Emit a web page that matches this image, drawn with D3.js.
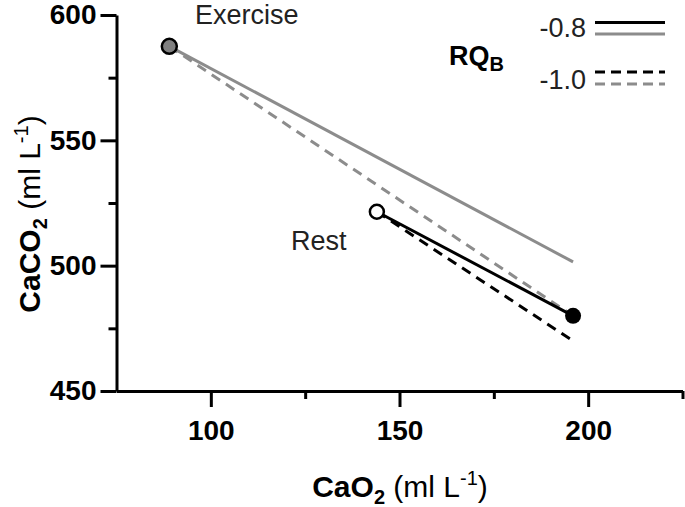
<!DOCTYPE html>
<html>
<head>
<meta charset="utf-8">
<script src="https://cdn.jsdelivr.net/npm/d3@7"></script>
<style>
  html, body { margin: 0; padding: 0; background: #fff; }
  svg { display: block; font-family: "Liberation Sans", Arial, sans-serif; }
</style>
</head>
<body>
<svg id="chart" width="685" height="507"></svg>
<script>
// ---- data ----
const xTicks = [100, 150, 200];
const xMinorTicks = [125, 175, 225];
const yTicks = [450, 500, 550, 600];
const yMinorTicks = [475, 525, 575];
const xDomain = [75, 225];
const yDomain = [450, 600];

const rqLabels = ["-0.8", "-1.0"];
const pointLabels = ["Exercise", "Rest"];

// [CaO2, CaCO2]
const exercisePoint = [89, 587.5];
const restPoint = [144, 521.5];
const endPoint = [196, 480];

const exerciseLine08 = [[89, 587.5], [196, 501.5]];
const exerciseLine10 = [[89, 587.5], [196, 480]];
const restLine08 = [[144, 521.5], [196, 480]];
const restLine10 = [[144, 521.5], [196, 470]];

// ---- drawing ----
const BLACK = "#000000";
const GREY = "#8c8c8c";
const svg = d3.select("#chart");

const x = d3.scaleLinear().domain(xDomain).range([116.5, 682.5]);
const y = d3.scaleLinear().domain(yDomain).range([391, 15]);

const line = d3.line().x(d => x(d[0])).y(d => y(d[1]));

const lines = [
  { data: exerciseLine08, color: GREY, dash: null },
  { data: exerciseLine10, color: GREY, dash: "10,7" },
  { data: restLine08, color: BLACK, dash: null },
  { data: restLine10, color: BLACK, dash: "10,7" }
];

svg.selectAll("path.series")
  .data(lines)
  .enter().append("path")
  .attr("class", "series")
  .attr("d", d => line(d.data))
  .attr("fill", "none")
  .attr("stroke", d => d.color)
  .attr("stroke-width", 3)
  .attr("stroke-dasharray", d => d.dash);

// markers
svg.append("circle").attr("cx", x(exercisePoint[0])).attr("cy", y(exercisePoint[1]))
  .attr("r", 7.5).attr("fill", "#808080").attr("stroke", BLACK).attr("stroke-width", 2.5);
svg.append("circle").attr("cx", x(restPoint[0])).attr("cy", y(restPoint[1]))
  .attr("r", 7).attr("fill", "#fff").attr("stroke", BLACK).attr("stroke-width", 2.5);
svg.append("circle").attr("cx", x(endPoint[0])).attr("cy", y(endPoint[1]))
  .attr("r", 8).attr("fill", BLACK);

// axes
function styleAxis(g) {
  g.selectAll("path.domain").attr("stroke", BLACK).attr("stroke-width", 3);
  g.selectAll(".tick line").attr("stroke", BLACK).attr("stroke-width", 3);
  g.selectAll(".tick text").attr("fill", BLACK)
    .attr("font-family", "Liberation Sans, Arial, sans-serif")
    .attr("font-size", 28).attr("font-weight", "bold");
}

const xAxisG = svg.append("g").attr("transform", "translate(0,391)")
  .call(d3.axisBottom(x).tickValues(xTicks).tickSize(16).tickSizeOuter(0).tickPadding(13).tickFormat(d3.format("d")));
styleAxis(xAxisG);
const xMinorG = svg.append("g").attr("transform", "translate(0,391)")
  .call(d3.axisBottom(x).tickValues(xMinorTicks).tickSize(8).tickSizeOuter(0).tickFormat(""));
styleAxis(xMinorG);
xMinorG.select("path.domain").remove();

const yAxisG = svg.append("g").attr("transform", "translate(116.5,0)")
  .call(d3.axisLeft(y).tickValues(yTicks).tickSize(16).tickSizeOuter(0).tickPadding(4).tickFormat(d3.format("d")));
styleAxis(yAxisG);
const yMinorG = svg.append("g").attr("transform", "translate(116.5,0)")
  .call(d3.axisLeft(y).tickValues(yMinorTicks).tickSize(8).tickSizeOuter(0).tickFormat(""));
styleAxis(yMinorG);
yMinorG.select("path.domain").remove();

// axis titles
const xt = svg.append("text").attr("x", 400).attr("y", 497).attr("text-anchor", "middle")
  .attr("font-size", 30).attr("fill", BLACK);
xt.append("tspan").attr("font-weight", "bold").text("CaO");
xt.append("tspan").attr("font-weight", "bold").attr("font-size", 20).attr("dy", 7).text("2");
xt.append("tspan").attr("dy", -7).text(" (ml L");
xt.append("tspan").attr("font-size", 20).attr("dy", -12).text("-1");
xt.append("tspan").attr("dy", 12).text(")");

const yt = svg.append("text").attr("transform", "translate(40,214) rotate(-90)")
  .attr("text-anchor", "middle").attr("font-size", 30).attr("fill", BLACK);
yt.append("tspan").attr("font-weight", "bold").text("CaCO");
yt.append("tspan").attr("font-weight", "bold").attr("font-size", 20).attr("dy", 7).text("2");
yt.append("tspan").attr("dy", -7).text(" (ml L");
yt.append("tspan").attr("font-size", 20).attr("dy", -12).text("-1");
yt.append("tspan").attr("dy", 12).text(")");

// point labels
svg.append("text").attr("x", 195).attr("y", 24).attr("font-size", 27).attr("fill", "#222").text(pointLabels[0]);
svg.append("text").attr("x", 291).attr("y", 250).attr("font-size", 27).attr("fill", "#222").text(pointLabels[1]);

// legend
const legend = svg.append("g");
const rq = legend.append("text").attr("x", 449).attr("y", 65).attr("font-size", 27)
  .attr("font-weight", "bold").attr("fill", BLACK);
rq.append("tspan").text("RQ");
rq.append("tspan").attr("font-size", 20).attr("dy", 6).text("B");

const legendRows = [
  { label: rqLabels[0], textY: 37, dash: null, y1: 22.5, y2: 34 },
  { label: rqLabels[1], textY: 89, dash: "10,6", y1: 72, y2: 84 }
];
legendRows.forEach(r => {
  legend.append("text").attr("x", 586).attr("y", r.textY).attr("text-anchor", "end")
    .attr("font-size", 27).attr("fill", "#222").text(r.label);
  legend.append("line").attr("x1", 595).attr("x2", 665).attr("y1", r.y1).attr("y2", r.y1)
    .attr("stroke", BLACK).attr("stroke-width", 3).attr("stroke-dasharray", r.dash);
  legend.append("line").attr("x1", 595).attr("x2", 665).attr("y1", r.y2).attr("y2", r.y2)
    .attr("stroke", GREY).attr("stroke-width", 3).attr("stroke-dasharray", r.dash);
});
</script>
</body>
</html>
